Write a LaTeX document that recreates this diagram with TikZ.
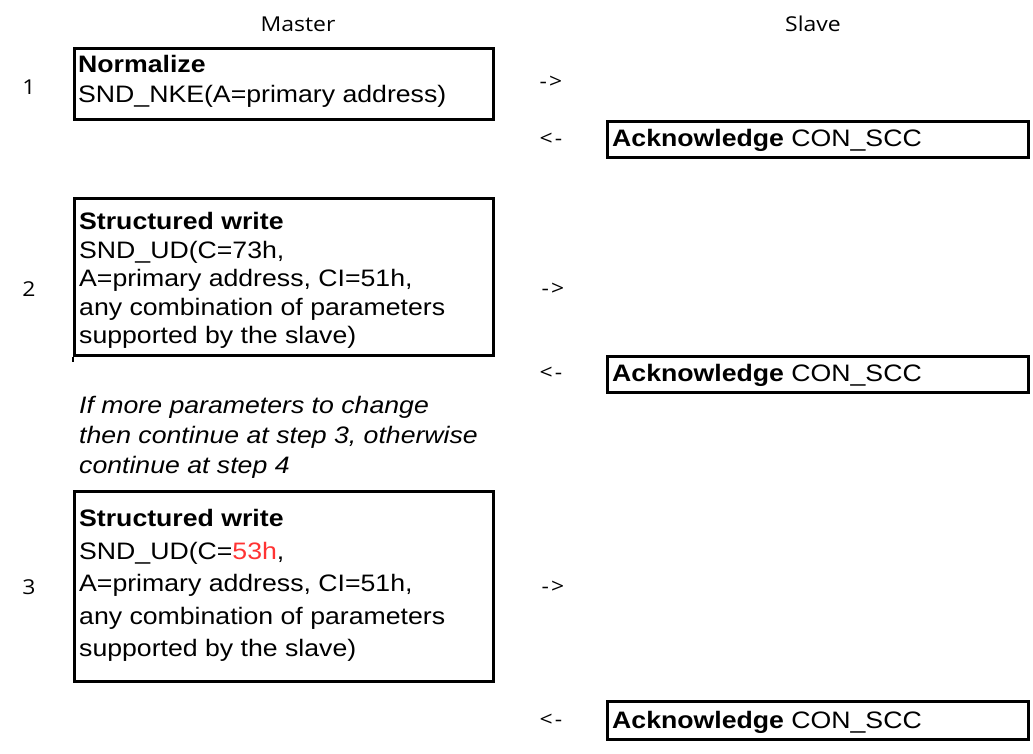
\documentclass[tikz,border=0pt]{standalone}
\usepackage{fontspec}
\setmainfont{Liberation Sans}[FakeStretch=1.12]
\newfontfamily\uifont{Open Sans}[FakeStretch=1.12]
\definecolor{redtxt}{RGB}{255,51,51}
\begin{document}
\begin{tikzpicture}[x=1bp,y=-1bp,
  frame/.style={draw=black, line width=2.8bp, inner sep=0pt, anchor=north west},
  txt/.style={font=\fontsize{23.8bp}{28.5bp}\selectfont, inner sep=0pt, anchor=base west},
  ui/.style={font=\uifont\fontsize{20.5bp}{24bp}\selectfont, inner sep=0pt}]
\useasboundingbox (0,0) rectangle (1033,754);
\fill[white] (0,0) rectangle (1033,754);

% headers
\node[ui] (master) at (298,24) {Master};
\node[ui] (slave) at (813,24) {Slave};

% step numbers
\node[ui] (n1) at (29,87) {1};
\node[ui] (n2) at (29,289) {2};
\node[ui] (n3) at (29,587) {3};

% arrows
\node[ui] (a1) at (551,82) {-\kern2bp>};
\node[ui] (r1) at (551,139) {<\kern2bp-};
\node[ui] (a2) at (553,289) {-\kern2bp>};
\node[ui] (r2) at (551,373) {<\kern2bp-};
\node[ui] (a3) at (553,587) {-\kern2bp>};
\node[ui] (r3) at (551,720) {<\kern2bp-};

% master boxes
\node[frame, minimum width=419bp, minimum height=71bp] (box1) at (73,47) {};
\node[txt] (b1l1) at (78,72.5) {\textbf{Normalize}};
\node[txt] (b1l2) at (78,102.5) {SND\_NKE(A=primary address)};

\node[frame, minimum width=419bp, minimum height=157bp] (box2) at (73,197) {};
\coordinate (b2ext) at (73,362);
\draw[line width=2.8bp] (box2.south west) -- (b2ext);
\node[txt] (b2l1) at (79,229.5) {\textbf{Structured write}};
\node[txt] (b2l2) at (79,258) {SND\_UD(C=73h,};
\node[txt] (b2l3) at (79,286.5) {A=primary address, CI=51h,};
\node[txt] (b2l4) at (79,315) {any combination of parameters};
\node[txt] (b2l5) at (79,343.5) {supported by the slave)};

\node[txt] (it1) at (79,413.5) {\itshape If more parameters to change};
\node[txt] (it2) at (79,443.5) {\itshape then continue at step 3, otherwise};
\node[txt] (it3) at (79,473.5) {\itshape continue at step 4};

\node[frame, minimum width=419bp, minimum height=190bp] (box3) at (73,490) {};
\node[txt] (b3l1) at (79,526.5) {\textbf{Structured write}};
\node[txt] (b3l2) at (79,559) {SND\_UD(C=\textcolor{redtxt}{53h},};
\node[txt] (b3l3) at (79,591.5) {A=primary address, CI=51h,};
\node[txt] (b3l4) at (79,624) {any combination of parameters};
\node[txt] (b3l5) at (79,656.5) {supported by the slave)};

% slave boxes
\node[frame, minimum width=421bp, minimum height=36bp] (ack1) at (606,120) {};
\node[txt] (ack1t) at (612,146.5) {\textbf{Acknowledge} CON\_SCC};
\node[frame, minimum width=421bp, minimum height=36bp] (ack2) at (606,355) {};
\node[txt] (ack2t) at (612,381.5) {\textbf{Acknowledge} CON\_SCC};
\node[frame, minimum width=421bp, minimum height=38bp] (ack3) at (606,700) {};
\node[txt] (ack3t) at (612,728.5) {\textbf{Acknowledge} CON\_SCC};
\end{tikzpicture}
\end{document}
